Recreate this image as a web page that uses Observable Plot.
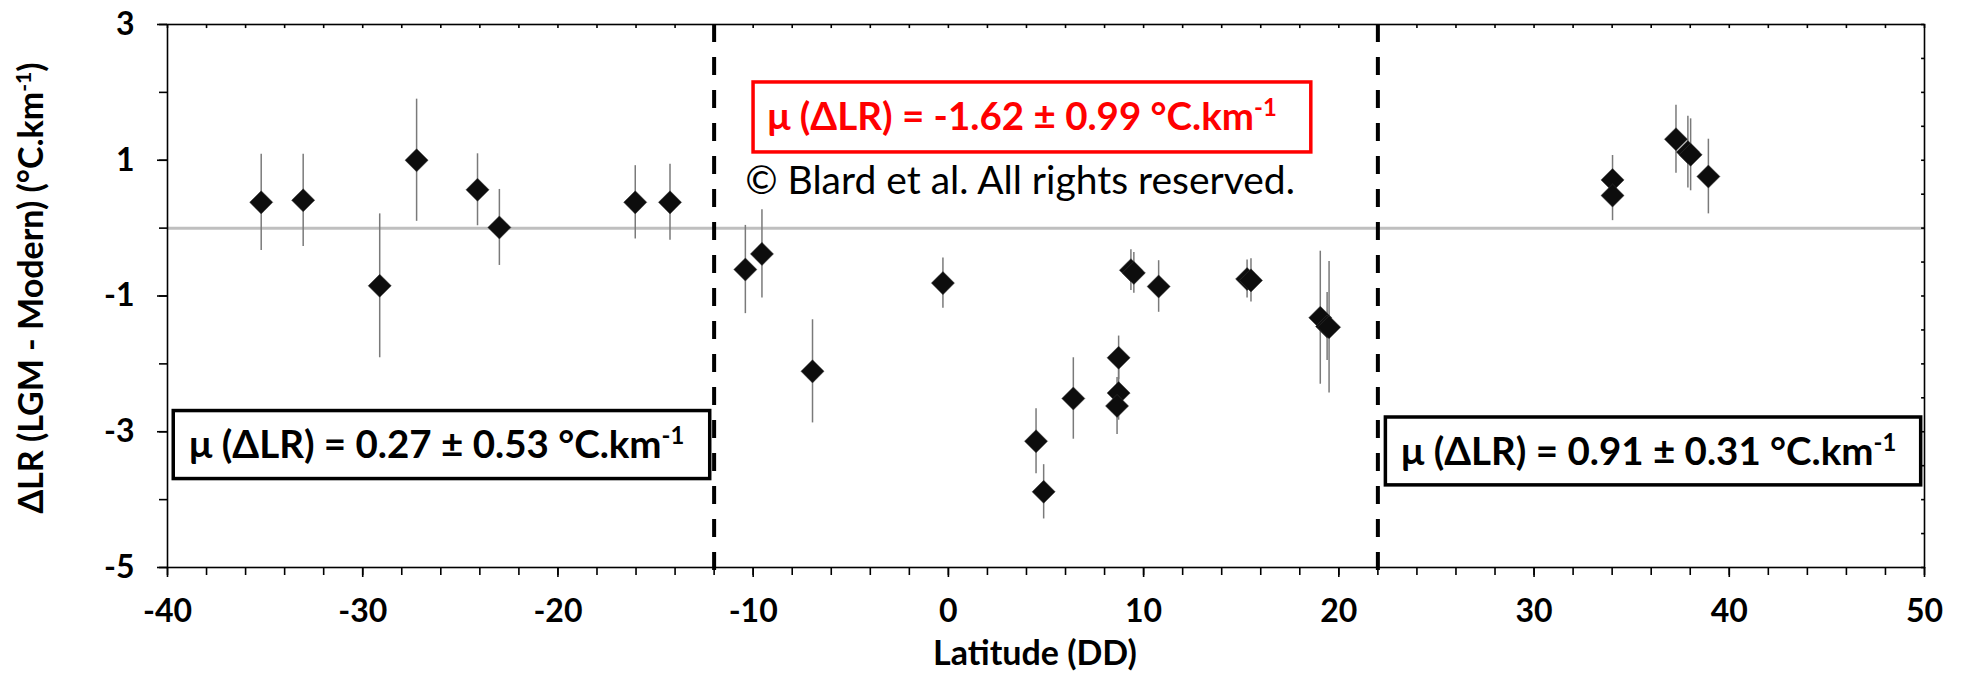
<!DOCTYPE html>
<html>
<head>
<meta charset="utf-8">
<script src="https://cdn.jsdelivr.net/npm/d3@7"></script>
<script src="https://cdn.jsdelivr.net/npm/@observablehq/plot@0.6"></script>
<style>
  html, body { margin: 0; padding: 0; background: #fff; }
  #chart svg { display: block; }
</style>
</head>
<body>
<div id="chart"></div>
<script>
// ---- Data ----
const latitude = [-35.2, -33.05, -29.13, -27.24, -24.12, -23.0, -16.04, -14.26,
  -10.4, -9.55, -6.96, -0.28, 4.49, 4.88, 6.4, 8.72, 8.72, 8.64, 9.35, 9.5, 10.77,
  15.3, 15.5, 19.05, 19.4, 19.5,
  34.02, 34.02, 37.27, 37.88, 38.02, 38.93];
const deltaLR = [0.38, 0.41, -0.85, 1.0, 0.565, 0.01, 0.38, 0.38,
  -0.61, -0.38, -2.11, -0.81, -3.14, -3.885, -2.51, -1.91, -2.43, -2.62, -0.62, -0.66, -0.86,
  -0.75, -0.77, -1.32, -1.45, -1.46,
  0.71, 0.48, 1.31, 1.12, 1.08, 0.76];
const errorLR = [0.71, 0.68, 1.06, 0.9, 0.53, 0.56, 0.54, 0.56,
  0.65, 0.65, 0.76, 0.37, 0.48, 0.4, 0.6, 0.32, 0.4, 0.42, 0.3, 0.3, 0.38,
  0.28, 0.32, 0.98, 0.5, 0.97,
  0.36, 0.37, 0.5, 0.53, 0.53, 0.55];

const xMajorTicks = [-40, -30, -20, -10, 0, 10, 20, 30, 40, 50];
const xMinorTicks = [-40, -38, -36, -34, -32, -30, -28, -26, -24, -22, -20, -18, -16, -14, -12, -10, -8, -6, -4, -2,
  0, 2, 4, 6, 8, 10, 12, 14, 16, 18, 20, 22, 24, 26, 28, 30, 32, 34, 36, 38, 40, 42, 44, 46, 48, 50];
const yMajorTicks = [3, 1, -1, -3, -5];
const yMinorTicks = [3, 2, 1, 0, -1, -2, -3, -4, -5];
const yRightTicks = [3, 2.5, 2, 1.5, 1, 0.5, 0, -0.5, -1, -1.5, -2, -2.5, -3, -3.5, -4, -4.5, -5];

const regionBounds = [-12, 22];
const regionLabels = [
  "μ (ΔLR) = 0.27 ± 0.53 °C.km^-1",
  "μ (ΔLR) = -1.62 ± 0.99 °C.km^-1",
  "μ (ΔLR) = 0.91 ± 0.31 °C.km^-1"
];
const regionColors = ["#000000", "#ff0000", "#000000"];
const copyrightText = "© Blard et al. All rights reserved.";
const xTitle = "Latitude (DD)";
const yTitle = "ΔLR (LGM - Modern) (°C.km^-1)";

// ---- Layout for annotation boxes (data coordinates) ----
const boxX1 = [-39.68, -9.98, 22.41];
const boxX2 = [-12.2, 18.59, 49.83];
const boxY1 = [-3.697, 1.115, -3.79];
const boxY2 = [-2.695, 2.146, -2.79];
const labelX = [-26.21, 3.77, 35.87];
const labelY = [-3.21, 1.62, -3.31];

const points = latitude.map((lat, i) => ({lat, v: deltaLR[i], e: errorLR[i]}));
const boxes = regionLabels.map((text, i) => ({
  text, color: regionColors[i], x1: boxX1[i], x2: boxX2[i], y1: boxY1[i], y2: boxY2[i], lx: labelX[i], ly: labelY[i]
}));

const font = "Lato, 'Open Sans', sans-serif";
const fmt = d => String(d);

const chart = Plot.plot({
  width: 1961,
  height: 675,
  marginLeft: 167,
  marginRight: 37,
  marginTop: 24,
  marginBottom: 108,
  style: {fontFamily: font, background: "#fff", color: "#000", overflow: "visible"},
  x: {domain: [-40, 50]},
  y: {domain: [-5, 3]},
  marks: [
    // zero line
    Plot.ruleY([0], {stroke: "#bfbfbf", strokeWidth: 3}),
    // region boundaries
    Plot.ruleX(regionBounds, {stroke: "#000", strokeWidth: 4, strokeDasharray: "18,15", insetBottom: -10}),
    // error bars
    Plot.ruleX(points, {x: "lat", y1: d => d.v - d.e, y2: d => d.v + d.e, stroke: "#7a7a7a", strokeWidth: 1.5}),
    // points
    Plot.dot(points, {x: "lat", y: "v", symbol: "diamond2", r: 10.4, fill: "#0d0d0d", stroke: "#3a3a3a", strokeWidth: 0.5}),
    // frame
    Plot.frame({stroke: "#000", strokeWidth: 1.6}),
    // bottom axis
    Plot.axisX(xMinorTicks, {anchor: "bottom", tickSize: 8, tickFormat: () => "", strokeWidth: 1.6, label: null}),
    Plot.axisX(xMajorTicks, {anchor: "bottom", tickSize: 10, tickPadding: 22, tickFormat: fmt, fontSize: 32, fontWeight: "bold", strokeWidth: 1.6, label: null}),
    // left axis
    Plot.axisY(yMinorTicks, {anchor: "left", tickSize: 8, tickFormat: () => "", strokeWidth: 1.6, label: null}),
    Plot.axisY(yMajorTicks, {anchor: "left", tickSize: 10, tickPadding: 23, tickFormat: fmt, fontSize: 32, fontWeight: "bold", strokeWidth: 1.6, label: null}),
    // inward ticks on top and right
    Plot.ruleX(xMinorTicks, {x: d => d, y1: 3, y2: 2.94, stroke: "#000", strokeWidth: 1.6}),
    Plot.ruleY(yRightTicks, {y: d => d, x1: 49.85, x2: 50, stroke: "#000", strokeWidth: 1.6}),
    // annotation boxes
    Plot.rect(boxes, {x1: "x1", x2: "x2", y1: "y1", y2: "y2", fill: "#fff", stroke: "color", strokeWidth: 3.5}),
    Plot.text(boxes, {x: "lx", y: "ly", text: "text", fill: "color", fontSize: 38.5, fontWeight: "bold", textAnchor: "middle", lineAnchor: "middle"}),
    Plot.text([copyrightText], {x: 3.67, y: 0.69, text: d => d, fill: "#000", fontSize: 39, textAnchor: "middle", lineAnchor: "middle"}),
    // axis titles
    Plot.text([xTitle], {frameAnchor: "bottom", text: d => d, dx: -11, dy: 87, fontSize: 34, fontWeight: "bold", textAnchor: "middle", lineAnchor: "middle"}),
    Plot.text([yTitle], {frameAnchor: "left", text: d => d, rotate: -90, dx: -135, dy: -8, fontSize: 34, fontWeight: "bold", textAnchor: "middle", lineAnchor: "middle"})
  ]
});

document.getElementById("chart").appendChild(chart);

// superscript handling: "^-1" -> raised tspan
d3.select(chart).selectAll("text").each(function() {
  const el = this;
  const hasTspan = el.querySelector("tspan");
  const target = hasTspan ? el.querySelector("tspan") : el;
  const s = target.textContent;
  const i = s.indexOf("^");
  if (i < 0) return;
  const before = s.slice(0, i);
  const rest = s.slice(i + 1);
  const m = rest.match(/^(-?\d+)(.*)$/);
  const sup = m ? m[1] : rest;
  const after = m ? m[2] : "";
  target.textContent = before;
  const t = d3.select(target);
  t.append("tspan").attr("baseline-shift", "super").attr("font-size", "0.62em").text(sup);
  if (after) t.append("tspan").text(after);
});
</script>
</body>
</html>
